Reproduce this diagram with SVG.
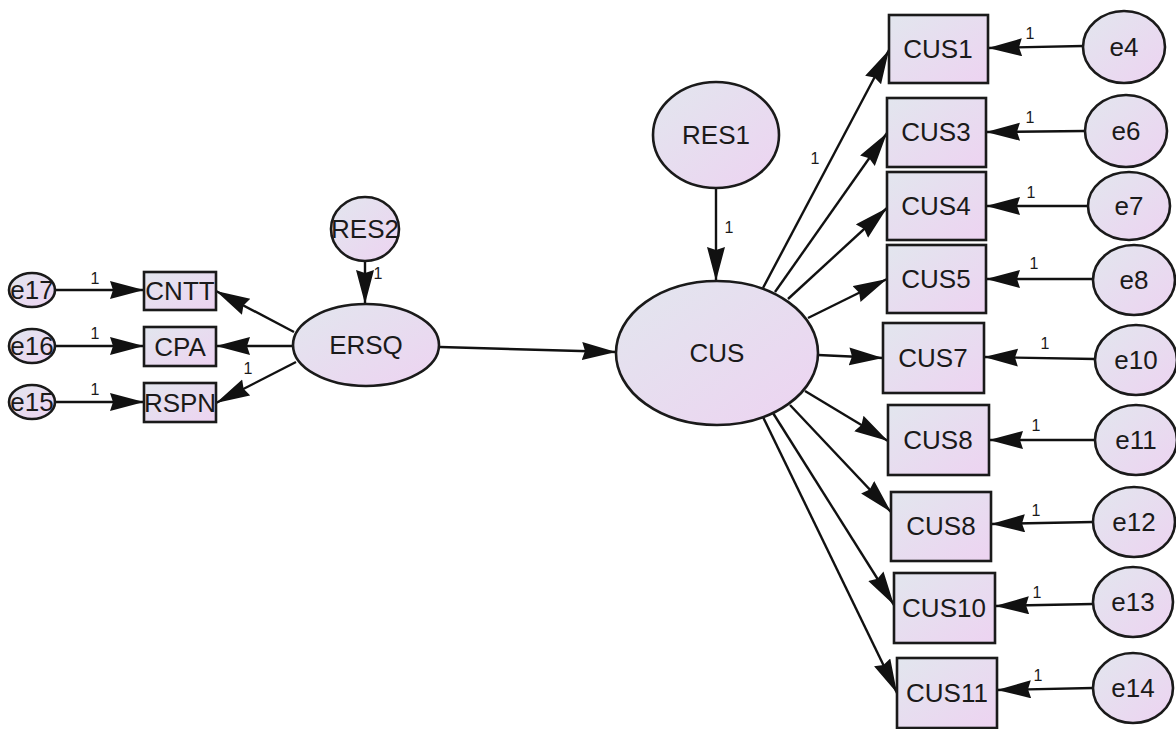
<svg xmlns="http://www.w3.org/2000/svg" width="1176" height="729" viewBox="0 0 1176 729">
  <defs>
    <linearGradient id="fillGrad" x1="0" y1="0" x2="1" y2="1">
      <stop offset="0" stop-color="#e2e6ee"/>
      <stop offset="1" stop-color="#edd3f1"/>
    </linearGradient>
    <marker id="arrow" markerUnits="userSpaceOnUse" markerWidth="36" markerHeight="20" refX="34" refY="9" orient="auto">
      <path d="M0,0 L34,9 L0,18 L3,9 Z" fill="#111"/>
    </marker>
  </defs>
  <style>
    .node { fill: url(#fillGrad); stroke: #1a1a1a; stroke-width: 2.6; }
    .lbl { font-family: "Liberation Sans", Arial, sans-serif; font-size: 26px; fill: #1a1a1a; text-anchor: middle; }
    .w { font-family: "Liberation Sans", Arial, sans-serif; font-size: 16px; fill: #1a1a1a; text-anchor: middle; }
    .edge { stroke: #111; stroke-width: 2.4; fill: none; marker-end: url(#arrow); }
  </style>
  <rect width="1176" height="729" fill="#ffffff"/>

  <!-- connectors -->
  <g id="connectors">
    <line class="edge" x1="55" y1="290" x2="144" y2="290"/>
    <line class="edge" x1="55" y1="346" x2="144" y2="346"/>
    <line class="edge" x1="55" y1="402" x2="144" y2="402"/>
    <line class="edge" x1="294" y1="332" x2="216" y2="291"/>
    <line class="edge" x1="293" y1="346" x2="216" y2="346"/>
    <line class="edge" x1="296" y1="362" x2="216" y2="403"/>
    <line class="edge" x1="365" y1="261" x2="365" y2="304"/>
    <line class="edge" x1="440" y1="347" x2="616" y2="352"/>
    <line class="edge" x1="716" y1="188" x2="716" y2="281"/>
    <line class="edge" x1="763" y1="288" x2="889" y2="50"/>
    <line class="edge" x1="775" y1="292" x2="887" y2="133"/>
    <line class="edge" x1="788" y1="299" x2="887" y2="208"/>
    <line class="edge" x1="808" y1="318" x2="887" y2="279"/>
    <line class="edge" x1="818" y1="355" x2="883" y2="358"/>
    <line class="edge" x1="805" y1="391" x2="888" y2="441"/>
    <line class="edge" x1="790" y1="405" x2="891" y2="512"/>
    <line class="edge" x1="773" y1="413" x2="894" y2="605"/>
    <line class="edge" x1="763" y1="417" x2="897" y2="693"/>
    <line class="edge" x1="1083" y1="46" x2="988" y2="48"/>
    <line class="edge" x1="1085" y1="131" x2="986" y2="132"/>
    <line class="edge" x1="1088" y1="206" x2="986" y2="206"/>
    <line class="edge" x1="1093" y1="279" x2="986" y2="279"/>
    <line class="edge" x1="1095" y1="359" x2="984" y2="357"/>
    <line class="edge" x1="1095" y1="440" x2="989" y2="440"/>
    <line class="edge" x1="1093" y1="522" x2="991" y2="524"/>
    <line class="edge" x1="1093" y1="604" x2="995" y2="606"/>
    <line class="edge" x1="1093" y1="688" x2="997" y2="690"/>
  </g>

  <!-- path weights -->
  <g id="weights">
    <text class="w" x="95" y="284">1</text>
    <text class="w" x="95" y="339">1</text>
    <text class="w" x="95" y="395">1</text>
    <text class="w" x="248" y="374">1</text>
    <text class="w" x="378" y="279">1</text>
    <text class="w" x="729" y="233">1</text>
    <text class="w" x="815" y="164">1</text>
    <text class="w" x="1030" y="39">1</text>
    <text class="w" x="1030" y="123">1</text>
    <text class="w" x="1031" y="198">1</text>
    <text class="w" x="1034" y="269">1</text>
    <text class="w" x="1045" y="349">1</text>
    <text class="w" x="1036" y="431">1</text>
    <text class="w" x="1036" y="516">1</text>
    <text class="w" x="1037" y="598">1</text>
    <text class="w" x="1038" y="681">1</text>
  </g>

  <!-- ERSQ block -->
  <g id="e17"><ellipse class="node" cx="32" cy="290" rx="23" ry="17"/><text class="lbl" x="32" y="299">e17</text></g>
  <g id="e16"><ellipse class="node" cx="32" cy="346" rx="23" ry="17"/><text class="lbl" x="32" y="355">e16</text></g>
  <g id="e15"><ellipse class="node" cx="32" cy="402" rx="23" ry="17"/><text class="lbl" x="32" y="411">e15</text></g>
  <g id="CNTT"><rect class="node" x="144" y="272" width="72" height="38"/><text class="lbl" x="180" y="300">CNTT</text></g>
  <g id="CPA"><rect class="node" x="144" y="327" width="72" height="39"/><text class="lbl" x="180" y="356">CPA</text></g>
  <g id="RSPN"><rect class="node" x="144" y="383" width="72" height="39"/><text class="lbl" x="180" y="412">RSPN</text></g>
  <g id="RES2"><ellipse class="node" cx="365" cy="229" rx="34" ry="32"/><text class="lbl" x="365" y="238">RES2</text></g>
  <g id="ERSQ"><ellipse class="node" cx="366" cy="345" rx="73" ry="41"/><text class="lbl" x="366" y="354">ERSQ</text></g>

  <!-- CUS block -->
  <g id="RES1"><ellipse class="node" cx="716" cy="135" rx="63" ry="53"/><text class="lbl" x="716" y="144">RES1</text></g>
  <g id="CUS"><ellipse class="node" cx="717" cy="353" rx="101" ry="72"/><text class="lbl" x="717" y="362">CUS</text></g>

  <g id="CUS1"><rect class="node" x="889" y="15" width="99" height="68"/><text class="lbl" x="938" y="58">CUS1</text></g>
  <g id="CUS3"><rect class="node" x="887" y="98" width="99" height="69"/><text class="lbl" x="936" y="141">CUS3</text></g>
  <g id="CUS4"><rect class="node" x="887" y="172" width="99" height="68"/><text class="lbl" x="936" y="215">CUS4</text></g>
  <g id="CUS5"><rect class="node" x="887" y="245" width="99" height="68"/><text class="lbl" x="936" y="288">CUS5</text></g>
  <g id="CUS7"><rect class="node" x="883" y="323" width="101" height="70"/><text class="lbl" x="933" y="367">CUS7</text></g>
  <g id="CUS8a"><rect class="node" x="888" y="405" width="101" height="70"/><text class="lbl" x="938" y="449">CUS8</text></g>
  <g id="CUS8b"><rect class="node" x="891" y="492" width="100" height="69"/><text class="lbl" x="941" y="535">CUS8</text></g>
  <g id="CUS10"><rect class="node" x="894" y="573" width="101" height="70"/><text class="lbl" x="944" y="617">CUS10</text></g>
  <g id="CUS11"><rect class="node" x="897" y="658" width="100" height="70"/><text class="lbl" x="947" y="702">CUS11</text></g>

  <g id="e4"><ellipse class="node" cx="1124" cy="47" rx="41" ry="36"/><text class="lbl" x="1124" y="56">e4</text></g>
  <g id="e6"><ellipse class="node" cx="1126" cy="131" rx="41" ry="36"/><text class="lbl" x="1126" y="140">e6</text></g>
  <g id="e7"><ellipse class="node" cx="1129" cy="206" rx="41" ry="34"/><text class="lbl" x="1129" y="215">e7</text></g>
  <g id="e8"><ellipse class="node" cx="1134" cy="280" rx="41" ry="35"/><text class="lbl" x="1134" y="289">e8</text></g>
  <g id="e10"><ellipse class="node" cx="1136" cy="360" rx="41" ry="35"/><text class="lbl" x="1136" y="369">e10</text></g>
  <g id="e11"><ellipse class="node" cx="1136" cy="440" rx="41" ry="35"/><text class="lbl" x="1136" y="449">e11</text></g>
  <g id="e12"><ellipse class="node" cx="1134" cy="522" rx="41" ry="35"/><text class="lbl" x="1134" y="531">e12</text></g>
  <g id="e13"><ellipse class="node" cx="1133" cy="602" rx="40" ry="35"/><text class="lbl" x="1133" y="611">e13</text></g>
  <g id="e14"><ellipse class="node" cx="1133" cy="688" rx="40" ry="35"/><text class="lbl" x="1133" y="697">e14</text></g>
</svg>
